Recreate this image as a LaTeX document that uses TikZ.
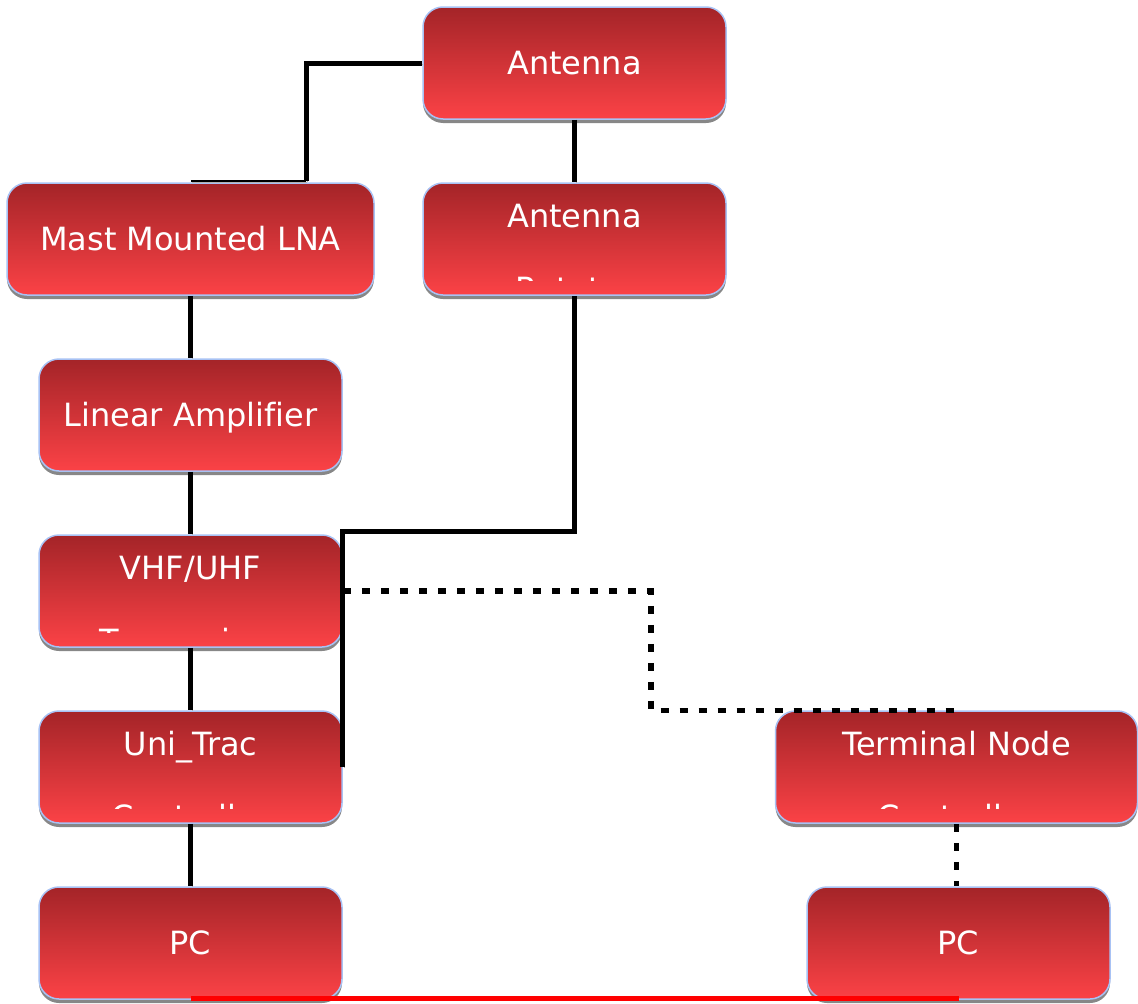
\documentclass[tikz,border=0pt]{standalone}
\usepackage{fontspec}
\setmainfont{DejaVu Sans}[Ligatures=NoCommon]
\usetikzlibrary{calc,shadows}

\definecolor{boxtop}{RGB}{164,36,40}
\definecolor{boxbot}{RGB}{251,66,70}
\definecolor{boxedge}{RGB}{168,194,244}
\definecolor{shadowgray}{RGB}{135,135,135}

\newcommand\diagfont{\fontsize{32}{38}\selectfont}

\begin{document}
\begin{tikzpicture}[x=1pt,y=-1pt,
  box/.style={rectangle, rounded corners=20pt, draw=boxedge, line width=1.5pt,
    top color=boxtop, bottom color=boxbot, minimum height=112pt, inner sep=0pt,
    text=white, font=\diagfont, text height=23pt, text depth=0pt,
    general shadow={fill=shadowgray, shadow yshift=-4pt}},
  txt/.style={text=white, font=\diagfont, inner sep=0pt, anchor=base},
  lineshadow/.style={preaction={draw=black!30, transform canvas={xshift=1.2pt, yshift=-1pt}}},
  conn/.style={line width=5pt, black, lineshadow},
  thinconn/.style={line width=2.5pt, black, lineshadow},
  dconn/.style={line width=5.5pt, black, dash pattern=on 8pt off 11pt},
  pclink/.style={line width=5pt, red}
]
\useasboundingbox (0,0) rectangle (1138,1004);

% left column
\node[box, minimum width=367pt] (lna) at (190.5,239) {Mast Mounted LNA};
\node[box, minimum width=303pt] (amp) at (190.5,415) {Linear Amplifier};
\node[box, minimum width=303pt] (vhf) at (190.5,591) {};
\node[box, minimum width=303pt] (uni) at (190.5,767) {};
\node[box, minimum width=303pt] (pcl) at (190.5,943) {PC};

% antenna column
\node[box, minimum width=303pt] (ant) at (574.5,63) {Antenna};
\node[box, minimum width=303pt] (rot) at (574.5,239) {};

% right column
\node[box, minimum width=362pt] (tnc) at (956.5,767) {};
\node[box, minimum width=303pt] (pcr) at (958.5,943) {PC};

% two-line labels; the second line is cut off near the box bottom
\node[txt] (rot1) at ([yshift=-45pt]rot.north) {Antenna};
\begin{scope}
  \clip ([yshift=-98pt]rot.north west) rectangle (rot.north east);
  \node[txt] (rot2) at ([yshift=-118.5pt]rot.north) {Rotator};
\end{scope}

\node[txt] (vhf1) at ([yshift=-45pt]vhf.north) {VHF/UHF};
\begin{scope}
  \clip ([yshift=-98pt]vhf.north west) rectangle (vhf.north east);
  \node[txt] (vhf2) at ([yshift=-118.5pt]vhf.north) {Transceiver};
\end{scope}

\node[txt] (uni1) at ([yshift=-45pt]uni.north) {Uni\_Trac};
\begin{scope}
  \clip ([yshift=-98pt]uni.north west) rectangle (uni.north east);
  \node[txt] (uni2) at ([yshift=-118.5pt]uni.north) {Controller};
\end{scope}

\node[txt] (tnc1) at ([yshift=-45pt]tnc.north) {Terminal Node};
\begin{scope}
  \clip ([yshift=-98pt]tnc.north west) rectangle (tnc.north east);
  \node[txt] (tnc2) at ([yshift=-118.5pt]tnc.north) {Controller};
\end{scope}

% connectors
\coordinate (lnabend) at (306,181);
\draw[conn] (ant.west) -| (lnabend);
\draw[thinconn] (lnabend) -- (lnabend -| lna.north);

\draw[conn] (ant.south) -- (rot.north);
\draw[conn] (lna.south) -- (amp.north);
\draw[conn] (amp.south) -- (vhf.north);
\draw[conn] (vhf.south) -- (uni.north);
\draw[conn] (uni.south) -- (pcl.north);

\coordinate (rotbend) at (574.5,531);
\draw[conn] (rot.south) -- (rotbend) -| (uni.east);

\coordinate (tncbend) at (651,591);
\draw[dconn] (vhf.east) -- (tncbend) |- (tnc.north);
\draw[dconn] (tnc.south) -- (tnc.south |- pcr.north);

\draw[pclink] ([yshift=1pt]pcl.south) -- ([yshift=1pt]pcl.south -| pcr.south);
\end{tikzpicture}
\end{document}
